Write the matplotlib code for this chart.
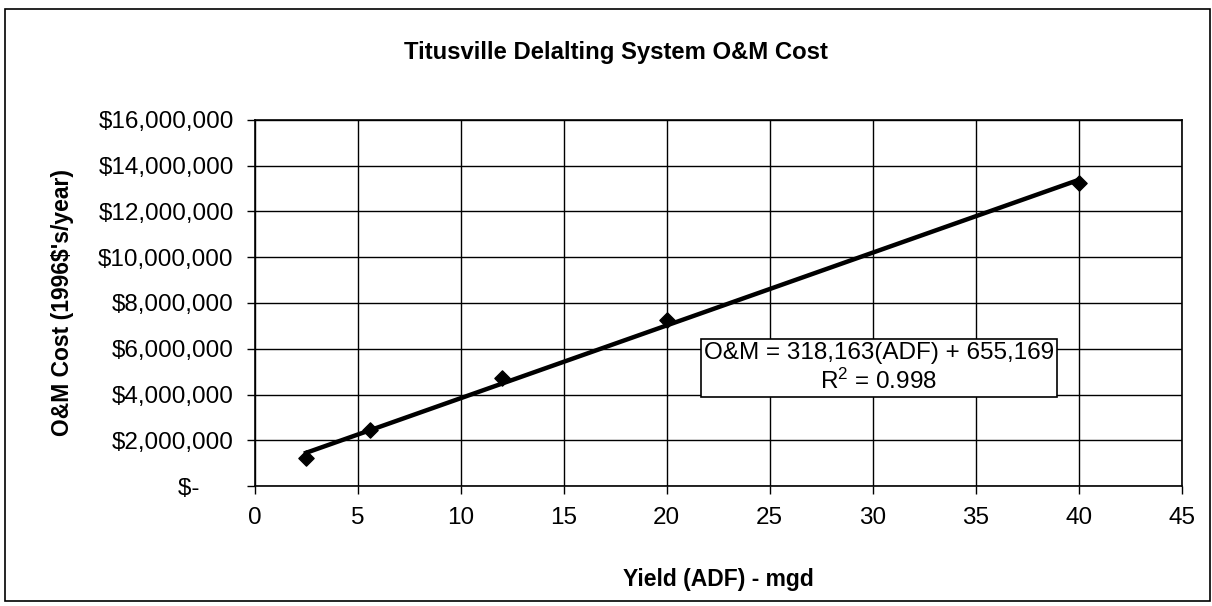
import numpy as np
import matplotlib.pyplot as plt
from matplotlib.patches import Rectangle
from matplotlib.ticker import FuncFormatter, MultipleLocator

plt.rcParams['font.family'] = ['Liberation Sans', 'DejaVu Sans']

# Data
adf = [2.5, 5.6, 12, 20, 40]
om_cost = [1.22e6, 2.45e6, 4.70e6, 7.25e6, 13.25e6]

# Trendline from the equation shown on the chart
slope = 318163
intercept = 655169
r_squared = 0.998

fig = plt.figure(figsize=(12.12, 6.06), dpi=100)
ax = fig.add_axes([0.210, 0.198, 0.765, 0.604])

# Outer chart border
fig.patches.append(Rectangle((0.004, 0.008), 0.994, 0.977, transform=fig.transFigure,
                             fill=False, edgecolor='black', linewidth=1.2))

ax.scatter(adf, om_cost, marker='D', s=60, color='black', zorder=4)
fit_x = np.array([min(adf), max(adf)])
ax.plot(fit_x, slope * fit_x + intercept, color='black', linewidth=3.2, zorder=3)

ax.set_xlim(0, 45)
ax.set_ylim(0, 16e6)
ax.xaxis.set_major_locator(MultipleLocator(5))
ax.yaxis.set_major_locator(MultipleLocator(2e6))

def money(v, pos):
    if v == 0:
        return '$-     '
    return '${:,.0f}'.format(v)

ax.yaxis.set_major_formatter(FuncFormatter(money))
ax.grid(True, color='black', linewidth=1)
ax.set_axisbelow(True)
for s in ax.spines.values():
    s.set_linewidth(1.2)
ax.tick_params(axis='both', direction='out', length=6, width=1, labelsize=17.5, pad=9)

ax.set_xlabel('Yield (ADF) - mgd', fontsize=16.5, fontweight='bold')
ax.set_ylabel("O&M Cost (1996$'s/year)", fontsize=16.5, fontweight='bold')
ax.xaxis.set_label_coords(0.5, -0.224)
ax.yaxis.set_label_coords(-0.195, 0.5)
fig.text(0.508, 0.914, 'Titusville Delalting System O&M Cost', ha='center', va='center',
         fontsize=17.2, fontweight='bold')

eq_text = 'O&M = {:,}(ADF) + {:,}\n$\\mathregular{{R^2}}$ = {}'.format(slope, intercept, r_squared)
ax.text(30.3, 5.15e6, eq_text, ha='center', va='center', fontsize=17.5, linespacing=1.25,
        bbox=dict(boxstyle='square,pad=0.12', facecolor='white', edgecolor='black', linewidth=1.2),
        zorder=5)

plt.savefig('out.png', dpi=100)
